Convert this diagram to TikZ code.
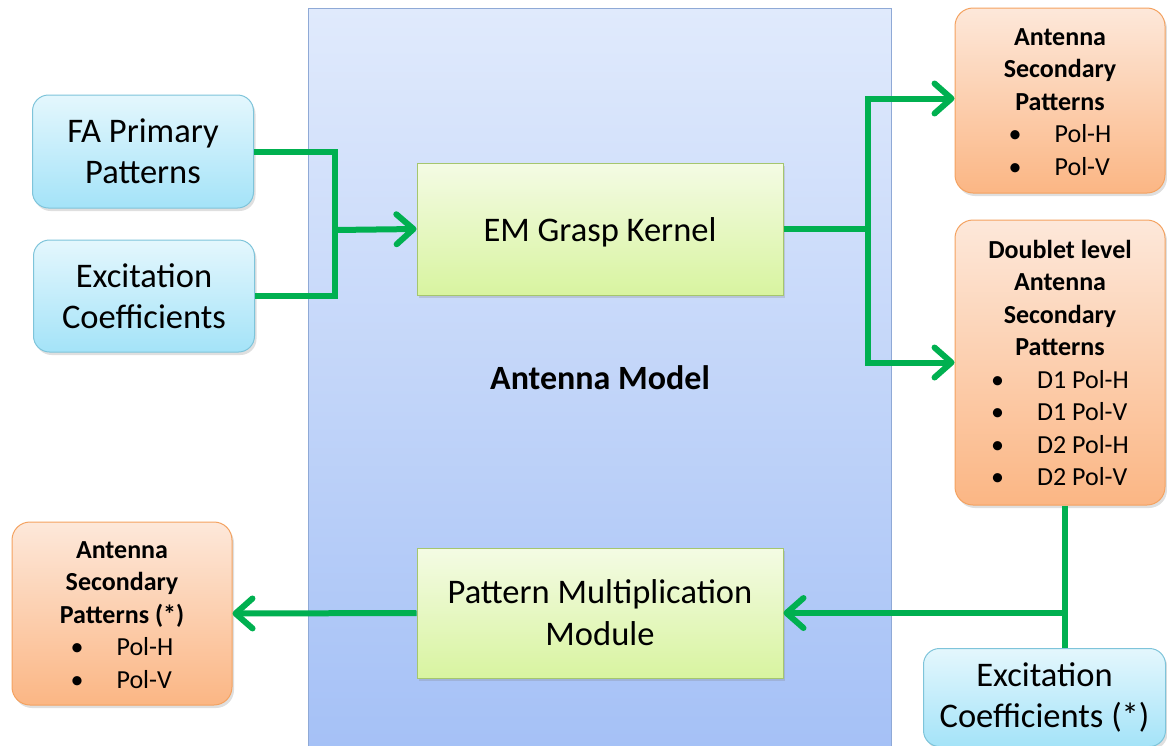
\documentclass[tikz,border=0pt]{standalone}
\usepackage{fontspec}
\setmainfont{Carlito}
\usetikzlibrary{arrows.meta,shadows}
\definecolor{flowgreen}{HTML}{00B050}
\definecolor{modtop}{HTML}{E0EAFC}
\definecolor{modbot}{HTML}{A4C0F6}
\definecolor{modline}{HTML}{8FA9D6}
\definecolor{cytop}{HTML}{E4F7FD}
\definecolor{cybot}{HTML}{A4E3F8}
\definecolor{cyline}{HTML}{7EC4DA}
\definecolor{grtop}{HTML}{F4FBE4}
\definecolor{grbot}{HTML}{D8F4A0}
\definecolor{grline}{HTML}{A5C66E}
\definecolor{ortop}{HTML}{FDE8DA}
\definecolor{orbot}{HTML}{FBB684}
\definecolor{orline}{HTML}{F4A260}
\tikzset{
  boxshadow/.style={drop shadow={opacity=0.25,shadow xshift=2pt,shadow yshift=-3pt}},
  inbox/.style={draw=cyline,line width=1pt,rounded corners=16pt,top color=cytop,bottom color=cybot,
    boxshadow,align=center,inner sep=0pt,
    font=\fontsize{34.5}{41}\selectfont},
  procbox/.style={draw=grline,line width=1pt,top color=grtop,bottom color=grbot,
    boxshadow,align=center,inner sep=0pt,
    font=\fontsize{34.5}{42}\selectfont},
  outbox/.style={draw=orline,line width=1pt,rounded corners=18pt,top color=ortop,bottom color=orbot,
    boxshadow,align=center,inner sep=0pt,
    font=\fontsize{26}{32.5}\selectfont},
  flowline/.style={draw=flowgreen,line width=6pt},
  flowarrow/.style={flowline,-{Straight Barb[length=17pt,width=30pt,line cap=round,line join=round]}},
}
\newcommand{\bulletlist}[1]{\begin{tabular}[t]{@{}l@{\hspace{33pt}}l@{}}#1\end{tabular}}
\newcommand{\topstrut}{\rule{0pt}{29pt}}
\begin{document}
\begin{tikzpicture}[x=1pt,y=-1pt]
\useasboundingbox (0,0) rectangle (1167,745);
% antenna model panel
\node[draw=modline,line width=1pt,top color=modtop,bottom color=modbot,minimum width=583pt,minimum height=752pt,inner sep=0pt,anchor=north west] (model) at (308,8) {};
\node[font=\fontsize{34}{40}\selectfont\bfseries] (modlabel) at (600,378) {Antenna Model};
% inputs
\node[inbox,minimum width=221pt,minimum height=113pt] (fa) at (143,151.5) {FA Primary\\Patterns};
\node[inbox,minimum width=221pt,minimum height=112pt] (exc) at (144,296) {Excitation\\Coefficients};
% processing
\node[procbox,minimum width=366pt,minimum height=132pt] (em) at (600,229) {\rule{0pt}{30pt}EM Grasp Kernel};
\node[procbox,minimum width=366pt,minimum height=130pt] (pmm) at (600,613) {Pattern Multiplication\\Module};
% outputs
\node[outbox,minimum width=210pt,minimum height=185pt] (out1) at (1060,100.5)
  {\topstrut\textbf{Antenna}\\\textbf{Secondary}\\\textbf{Patterns}\\
   \bulletlist{\textbullet & Pol-H\\ \textbullet & Pol-V}};
\node[outbox,minimum width=210pt,minimum height=285pt] (doub) at (1060,362.5)
  {\topstrut\textbf{Doublet level}\\\textbf{Antenna}\\\textbf{Secondary}\\\textbf{Patterns}\\
   \bulletlist{\textbullet & D1 Pol-H\\ \textbullet & D1 Pol-V\\ \textbullet & D2 Pol-H\\ \textbullet & D2 Pol-V}};
\node[outbox,minimum width=220pt,minimum height=183pt] (out3) at (122,613.5)
  {\topstrut\textbf{Antenna}\\\textbf{Secondary}\\\textbf{Patterns (*)}\\
   \bulletlist{\textbullet & Pol-H\\ \textbullet & Pol-V}};
\node[inbox,minimum width=242pt,minimum height=98pt,anchor=north west] (exc2) at (923,648) {Excitation\\Coefficients (*)};
% connectors
\coordinate (jl) at (335,230);
\coordinate (jr) at (868,229);
\coordinate (jb) at (1065,613);
\draw[flowline] (fa.east) -| (jl);
\draw[flowline] (exc.east) -| (jl);
\draw[flowarrow] (jl) -- (em.west);
\draw[flowline] (em.east) -- (jr);
\draw[flowarrow] (jr) |- ([yshift=2pt]out1.west);
\draw[flowarrow] (jr) |- (doub.west);
\draw[flowline] (doub.south -| jb) -- (exc2.north -| jb);
\draw[flowarrow] (jb) -- (pmm.east);
\draw[flowarrow] (pmm.west) -- (out3.east);
\end{tikzpicture}
\end{document}
